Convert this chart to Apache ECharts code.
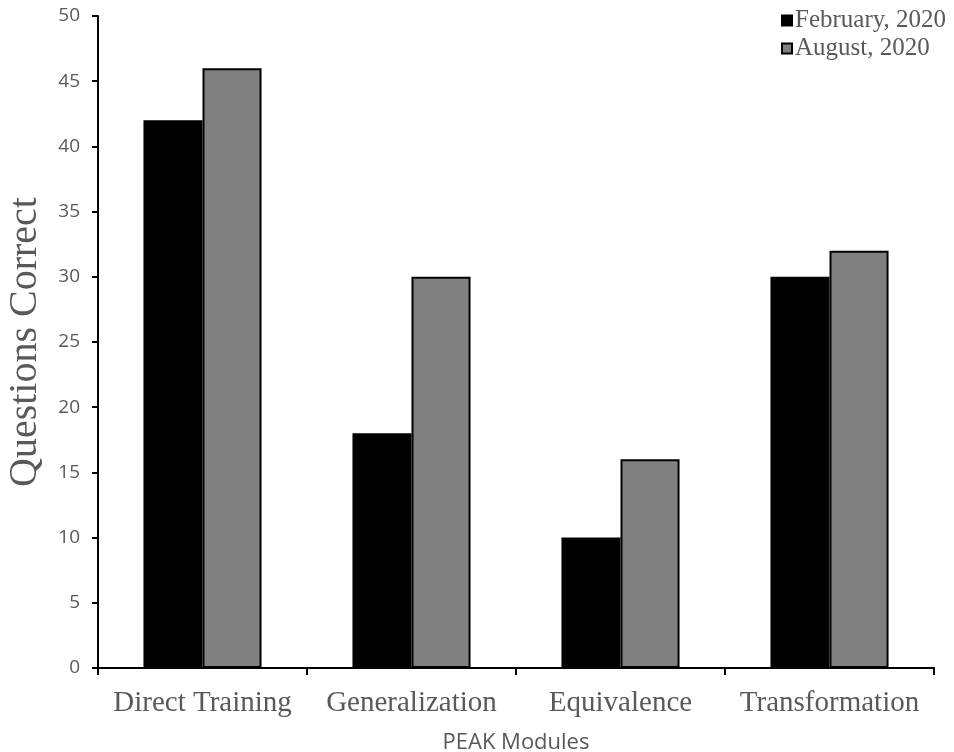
<!DOCTYPE html>
<html><head><meta charset="utf-8">
<script src="https://cdn.jsdelivr.net/npm/echarts@6/dist/echarts.min.js"></script>
<style>html,body{margin:0;padding:0;background:#fff}#c{width:954px;height:752px}</style>
</head><body><div id="c"></div>
<script>
const categories = ['Direct Training', 'Generalization', 'Equivalence', 'Transformation'];
const february2020 = [42, 18, 10, 30];
const august2020 = [46, 30, 16, 32];
const yTicks = [0, 5, 10, 15, 20, 25, 30, 35, 40, 45, 50];

const chart = echarts.init(document.getElementById('c'), null, {renderer: 'canvas'});
chart.setOption({
  animation: false,
  backgroundColor: '#fff',
  grid: {left: 98, right: 20, top: 16, bottom: 84, containLabel: false, outerBoundsMode: 'none'},
  legend: {
    orient: 'vertical', left: 776, top: 3, itemWidth: 10, itemHeight: 10, itemGap: 3,
    icon: 'rect',
    textStyle: {fontFamily: 'Liberation Serif', fontSize: 25, color: '#595959', padding: [0,0,0,-2]},
    data: ['February, 2020', 'August, 2020']
  },
  xAxis: {
    type: 'category', data: categories,
    name: 'PEAK Modules', nameLocation: 'middle', nameGap: 64,
    nameTextStyle: {fontFamily: 'Open Sans', fontSize: 22, color: '#595959'},
    axisLine: {lineStyle: {color: '#000', width: 2}},
    axisTick: {show: true, interval: 0, length: 7, lineStyle: {color: '#000', width: 2}},
    axisLabel: {interval: 0, fontFamily: 'Liberation Serif', fontSize: 29, color: '#595959', margin: 21}
  },
  yAxis: {
    type: 'value', min: 0, max: 50, interval: 5,
    name: 'Questions Correct', nameLocation: 'middle', nameGap: 53, nameRotate: 90,
    nameTextStyle: {fontFamily: 'Liberation Serif', fontSize: 40, color: '#595959'},
    axisLine: {show: true, lineStyle: {color: '#000', width: 2}},
    axisTick: {show: true, length: 6, lineStyle: {color: '#000', width: 2}},
    splitLine: {show: false},
    axisLabel: {fontFamily: 'Open Sans', fontSize: 19, color: '#595959', margin: 18,
      formatter: v => yTicks.includes(v) ? String(v) : ''}
  },
  series: [
    {name: 'February, 2020', type: 'bar', data: february2020, barGap: '0%', barCategoryGap: '43.5%',
     itemStyle: {color: '#000', borderColor: '#000', borderWidth: 2}},
    {name: 'August, 2020', type: 'bar', data: august2020, barGap: '0%', barCategoryGap: '43.5%',
     itemStyle: {color: '#808080', borderColor: '#000', borderWidth: 2}}
  ]
});
</script></body></html>
